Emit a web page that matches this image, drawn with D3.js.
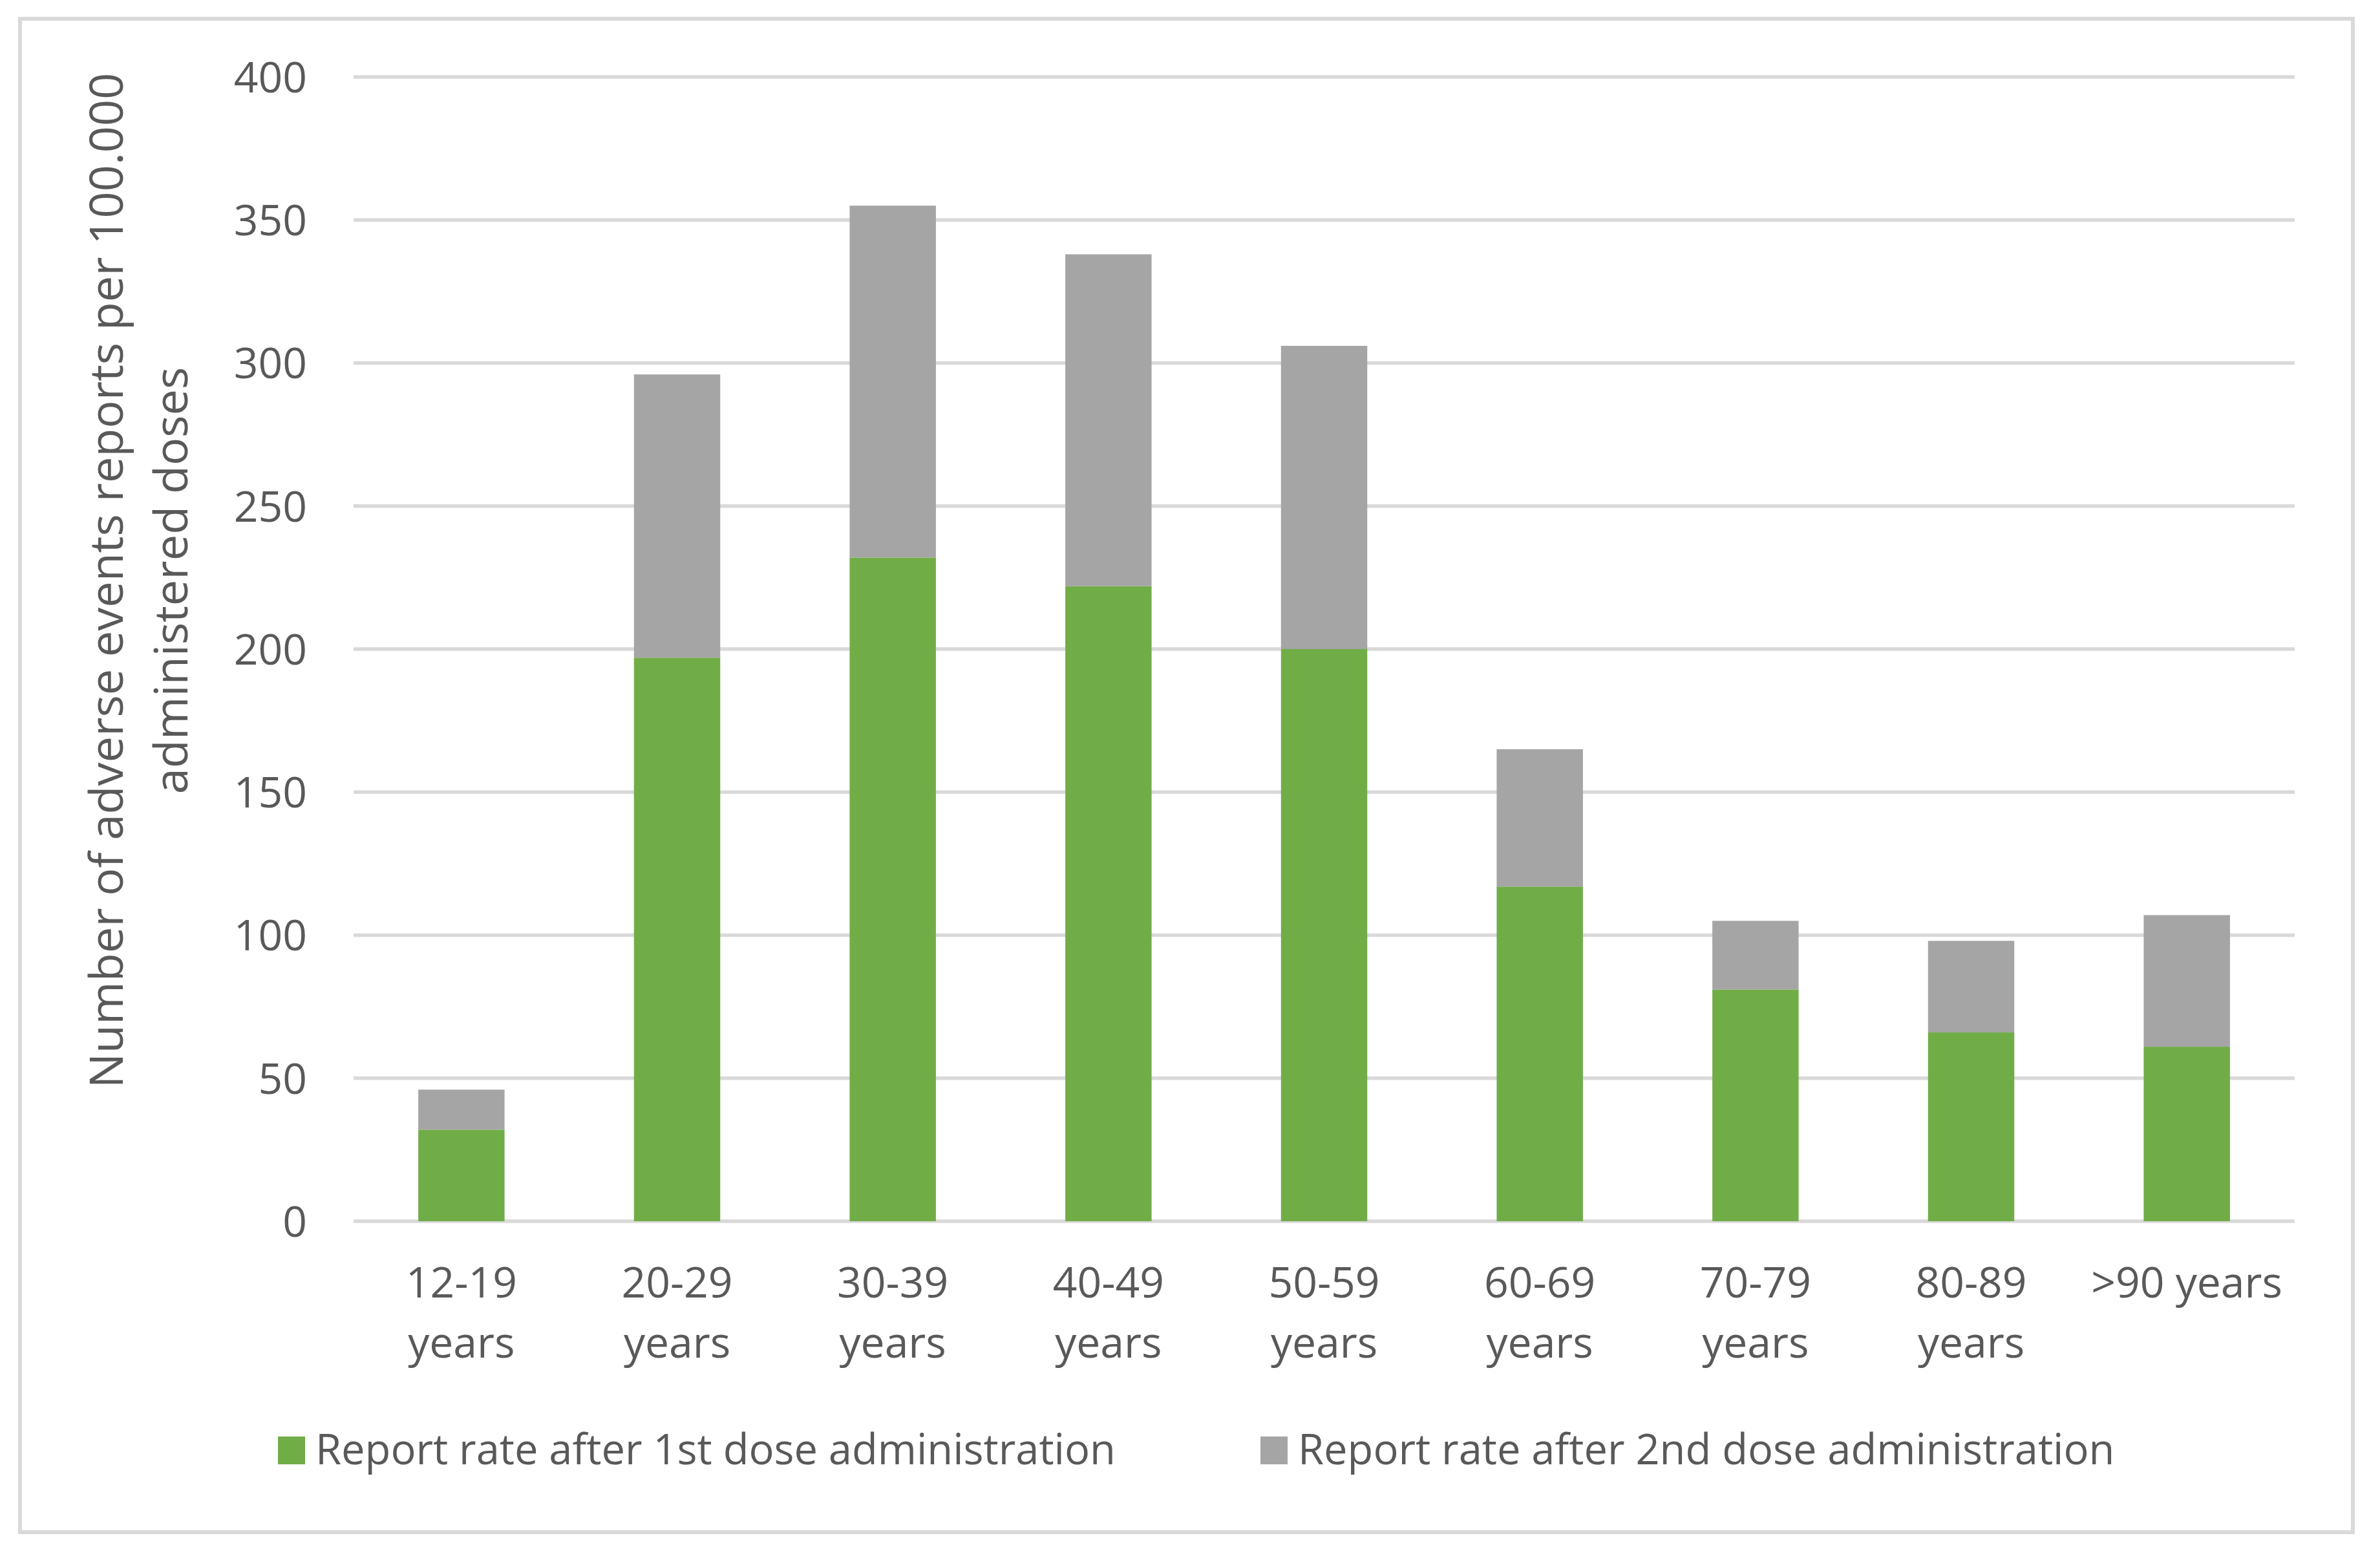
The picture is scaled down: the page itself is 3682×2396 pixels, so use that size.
<!DOCTYPE html>
<html>
<head>
<meta charset="utf-8">
<script src="https://cdn.jsdelivr.net/npm/d3@7"></script>
<style>
  html, body { margin: 0; padding: 0; background: #fff; }
  svg text { font-family: "Open Sans", "Noto Sans", sans-serif; fill: #595959; }
</style>
</head>
<body>
<svg id="chart"></svg>
<script>
// data
const ageGroups = ["12-19 years", "20-29 years", "30-39 years", "40-49 years", "50-59 years",
                   "60-69 years", "70-79 years", "80-89 years", ">90 years"];
const firstDose = [32, 197, 232, 222, 200, 117, 81, 66, 61];
const totalAfterSecond = [46, 296, 355, 338, 306, 165, 105, 98, 107];
const secondDose = totalAfterSecond.map((t, i) => t - firstDose[i]);
const seriesNames = ["Report rate after 1st dose administration", "Report rate after 2nd dose administration"];
const seriesColors = ["#70ad47", "#a5a5a5"];
const yTicks = [0, 50, 100, 150, 200, 250, 300, 350, 400];
const yTitle = ["Number of adverse events reports per 100.000", "administered doses"];

const width = 3682, height = 2396;
const plot = { left: 547, right: 3550, top: 119, bottom: 1889 };

const svg = d3.select("#chart").attr("width", width).attr("height", height);

svg.append("rect")
  .attr("x", 31).attr("y", 29)
  .attr("width", 3609).attr("height", 2341)
  .attr("fill", "#fff")
  .attr("stroke", "#d9d9d9").attr("stroke-width", 6);

const x = d3.scaleBand()
  .domain(ageGroups)
  .range([plot.left, plot.right])
  .paddingInner(0.6)
  .paddingOuter(0.3);

const y = d3.scaleLinear().domain([0, 400]).range([plot.bottom, plot.top]);

// gridlines
svg.append("g")
  .selectAll("line")
  .data(yTicks)
  .join("line")
  .attr("x1", plot.left).attr("x2", plot.right)
  .attr("y1", d => y(d)).attr("y2", d => y(d))
  .attr("stroke", "#d9d9d9").attr("stroke-width", 5.5);

// y tick labels
svg.append("g")
  .selectAll("text")
  .data(yTicks)
  .join("text")
  .attr("x", 475)
  .attr("y", d => y(d))
  .attr("dy", "0.36em")
  .attr("text-anchor", "end")
  .style("font-size", "66px")
  .text(d => d);

// stacked bars
const rows = ageGroups.map((g, i) => ({ group: g, first: firstDose[i], second: secondDose[i] }));
const stack = d3.stack().keys(["first", "second"]);
const layers = stack(rows);

svg.append("g")
  .selectAll("g")
  .data(layers)
  .join("g")
  .attr("fill", (d, i) => seriesColors[i])
  .selectAll("rect")
  .data(d => d)
  .join("rect")
  .attr("x", d => x(d.data.group))
  .attr("width", x.bandwidth())
  .attr("y", d => y(d[1]))
  .attr("height", d => y(d[0]) - y(d[1]));

// x labels (Excel wraps them onto two lines)
const xLab = svg.append("g");
ageGroups.forEach(g => {
  const cx = x(g) + x.bandwidth() / 2;
  const t = xLab.append("text")
    .attr("text-anchor", "middle")
    .style("font-size", "66px");
  const parts = g.startsWith(">") ? [g] : g.split(" ");
  parts.forEach((p, k) => {
    t.append("tspan").attr("x", cx).attr("y", 2007 + k * 93).text(p);
  });
});

// y axis title
const yt = svg.append("text")
  .attr("transform", "translate(0,898) rotate(-90)")
  .attr("text-anchor", "middle")
  .style("font-size", "72px");
yTitle.forEach((line, k) => {
  yt.append("tspan").attr("x", 0).attr("y", 190 + k * 100).text(line);
});

// legend
const legendX = [430, 1950];
const legend = svg.append("g");
seriesNames.forEach((name, i) => {
  legend.append("rect")
    .attr("x", legendX[i]).attr("y", 2222)
    .attr("width", 42).attr("height", 43)
    .attr("fill", seriesColors[i]);
  legend.append("text")
    .attr("x", legendX[i] + 58).attr("y", 2265)
    .style("font-size", "65px")
    .text(name);
});
</script>
</body>
</html>
